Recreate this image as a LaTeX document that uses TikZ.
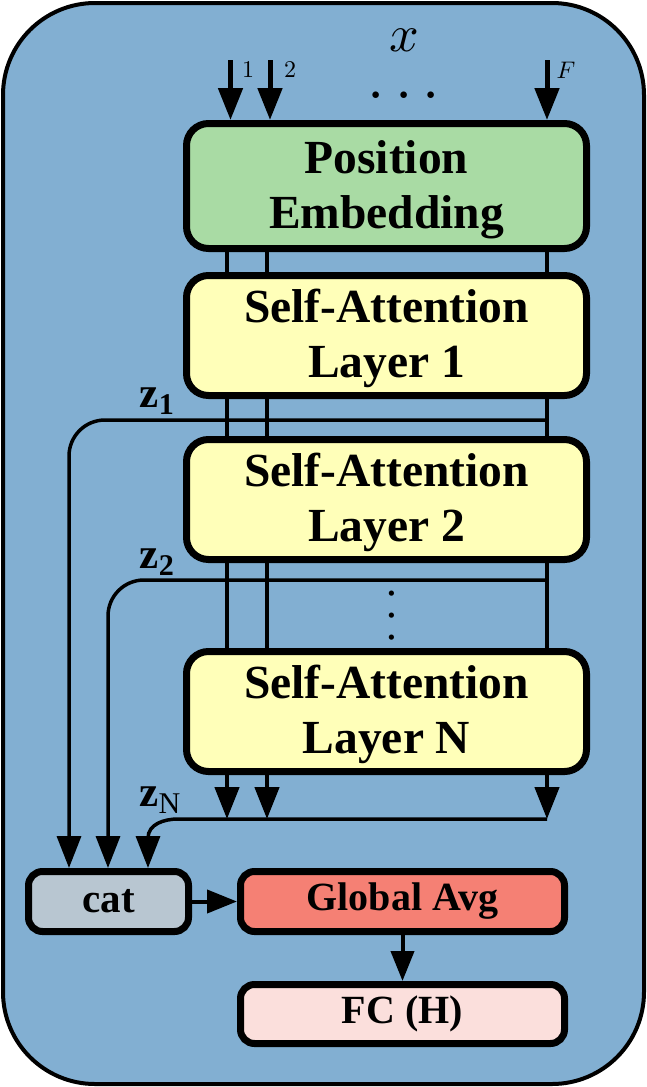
\documentclass[tikz,border=0pt]{standalone}
\usepackage{fontspec}
\setmainfont{Liberation Serif}
\usetikzlibrary{arrows.meta}
\definecolor{outerblue}{RGB}{130,175,210}
\definecolor{pegreen}{RGB}{169,219,164}
\definecolor{sayellow}{RGB}{255,255,185}
\definecolor{catgray}{RGB}{184,198,209}
\definecolor{gared}{RGB}{245,128,116}
\definecolor{fcpink}{RGB}{251,223,220}
\pgfdeclarelayer{bg}
\pgfsetlayers{bg,main}
\newcommand{\topstrut}{\rule{0pt}{40pt}}
\begin{document}
\begin{tikzpicture}[x=1pt,y=-1pt,
  bigbox/.style={draw, line width=7pt, rounded corners=22pt, inner sep=0pt, align=center,
    font=\fontsize{47.5}{55}\selectfont\bfseries, minimum width=400pt, minimum height=120pt},
  smallbox/.style={draw, line width=7pt, rounded corners=14pt, inner sep=0pt,
    font=\fontsize{40}{46}\selectfont\bfseries, minimum height=60pt},
  tipA/.style={-{Triangle[length=32pt,width=24pt]}},
  inarr/.style={line width=5pt, tipA},
  colline/.style={line width=4.5pt},
  colarr/.style={line width=4.5pt, tipA},
  zline/.style={line width=3.5pt, tipA},
  flowarr/.style={line width=4pt, -{Triangle[length=30pt,width=23pt]}},
  mlab/.style={inner sep=0pt}
]
\useasboundingbox (0,0) rectangle (647,1087);
\begin{pgfonlayer}{bg}
  \draw[line width=4pt, fill=outerblue, rounded corners=92pt] (3,3) rectangle (644,1084);
\end{pgfonlayer}

% boxes
\node[bigbox, fill=pegreen, minimum height=125pt] (pe) at (386.5,186) {\topstrut Position\\Embedding};
\node[bigbox, fill=sayellow] (sa1) at (386.5,335.5) {\topstrut Self-Attention\\Layer 1};
\node[bigbox, fill=sayellow] (sa2) at (386.5,499.5) {\topstrut Self-Attention\\Layer 2};
\node[bigbox, fill=sayellow] (san) at (386.5,711.5) {\topstrut Self-Attention\\Layer N};
\node[smallbox, fill=catgray, minimum width=160pt, font=\fontsize{41}{46}\selectfont\bfseries] (cat) at (108.5,901.5) {cat};
\node[smallbox, fill=gared, minimum width=324pt] (ga) at (402.5,901.5) {Global Avg};
\node[smallbox, fill=fcpink, minimum width=324pt, minimum height=59pt] (fc) at (402.5,1014) {FC (H)};

% input
\node[mlab] (xlab) at (404,40) {\scalebox{5.2}{$x$}};
\coordinate (in1) at (230.5,60);
\coordinate (in2) at (270,60);
\coordinate (inF) at (547,60);
\draw[inarr] (in1) -- (in1 |- pe.north);
\draw[inarr] (in2) -- (in2 |- pe.north);
\draw[inarr] (inF) -- (inF |- pe.north);
\node[mlab] (l1) at (248,70) {\scalebox{2.4}{$1$}};
\node[mlab] (l2) at (290,70) {\scalebox{2.4}{$2$}};
\node[mlab] (lF) at (566,70) {\scalebox{2.4}{$F$}};
\node[mlab] (hdots) at (404,95) {\scalebox{6.2}{$\ldots$}};

% columns through the layers
\coordinate (c1) at (227,0);
\coordinate (c2) at (267,0);
\coordinate (c3) at (547,0);
\begin{pgfonlayer}{bg}
  \draw[colline] (c1 |- pe.south) -- (c1 |- san.south);
  \draw[colline] (c2 |- pe.south) -- (c2 |- san.south);
  \draw[colline] (c3 |- pe.south) -- (c3 |- san.south);
\end{pgfonlayer}
\node[mlab, rotate=90] (vdots) at (392,616) {\scalebox{4.95}{$\ldots$}};

% skip connections
\coordinate (z1s) at (547,420);
\coordinate (z2s) at (547,580);
\coordinate (zNs) at (547,819);
\draw[zline, rounded corners=36pt] (z1s) -| ([xshift=-39.5pt]cat.north);
\draw[zline, rounded corners=36pt] (z2s) -| ([xshift=-0.5pt]cat.north);
\draw[colarr] (c1 |- san.south) -- (c1 |- zNs);
\draw[colarr] (c2 |- san.south) -- (c2 |- zNs);
\draw[colarr] (c3 |- san.south) -- (c3 |- zNs);
\coordinate (zNb) at (148,838);
\draw[zline] (zNs) -- (178,819) to[out=180,in=90] (zNb) -- (zNb |- cat.north);
\node[mlab] (z1) at (158,401) {\scalebox{4.3}{$\mathbf{z}_{\mathbf{1}}$}};
\node[mlab] (z2) at (158,562) {\scalebox{4.3}{$\mathbf{z}_{\mathbf{2}}$}};
\node[mlab] (zN) at (161,800) {\scalebox{4.3}{$\mathbf{z}_{\mathrm{N}}$}};

% output path
\draw[flowarr] (cat.east) -- (ga.west);
\draw[flowarr] (ga.south) -- (fc.north);
\end{tikzpicture}
\end{document}
